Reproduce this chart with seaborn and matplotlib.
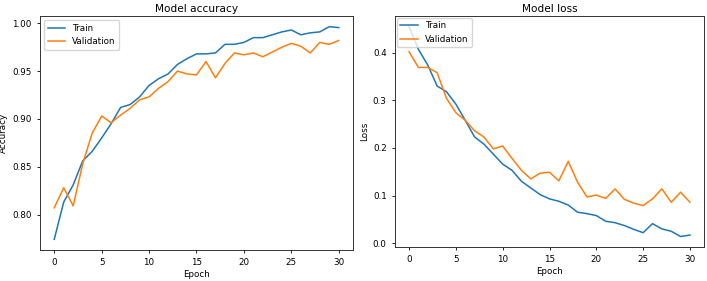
import numpy as np
import pandas as pd
import seaborn as sns
import matplotlib.pyplot as plt

plt.rcParams['font.family'] = ['DejaVu Sans']
plt.rcParams['font.size'] = 6.3

epochs = list(range(31))

train_acc = [0.774, 0.813, 0.831, 0.856, 0.866, 0.880, 0.895, 0.912, 0.915, 0.923,
             0.935, 0.942, 0.947, 0.957, 0.963, 0.968, 0.968, 0.969, 0.978, 0.978,
             0.980, 0.985, 0.985, 0.988, 0.991, 0.993, 0.988, 0.990, 0.991, 0.9965,
             0.9955]
val_acc = [0.807, 0.828, 0.809, 0.853, 0.885, 0.903, 0.896, 0.904, 0.911, 0.920,
           0.923, 0.932, 0.939, 0.950, 0.947, 0.946, 0.960, 0.943, 0.958, 0.969,
           0.967, 0.969, 0.965, 0.970, 0.975, 0.979, 0.976, 0.969, 0.980, 0.978,
           0.982]

train_loss = [0.455, 0.407, 0.374, 0.330, 0.318, 0.292, 0.258, 0.223, 0.208, 0.187,
              0.166, 0.153, 0.130, 0.116, 0.102, 0.093, 0.088, 0.080, 0.065, 0.062,
              0.058, 0.046, 0.043, 0.037, 0.029, 0.022, 0.041, 0.030, 0.025, 0.014,
              0.017]
val_loss = [0.402, 0.369, 0.369, 0.358, 0.304, 0.274, 0.258, 0.236, 0.223, 0.198,
            0.204, 0.178, 0.153, 0.135, 0.147, 0.149, 0.131, 0.172, 0.128, 0.097,
            0.101, 0.094, 0.114, 0.092, 0.084, 0.079, 0.093, 0.114, 0.086, 0.107,
            0.086]

acc_df = pd.DataFrame({'Epoch': epochs * 2,
                       'value': train_acc + val_acc,
                       'set': ['Train'] * 31 + ['Validation'] * 31})
loss_df = pd.DataFrame({'Epoch': epochs * 2,
                        'value': train_loss + val_loss,
                        'set': ['Train'] * 31 + ['Validation'] * 31})

palette = {'Train': '#1f77b4', 'Validation': '#ff7f0e'}

fig = plt.figure(figsize=(7.07, 2.81), dpi=100)
ax1 = fig.add_axes([40 / 707, 31 / 281, 313 / 707, 234 / 281])
ax2 = fig.add_axes([395 / 707, 34 / 281, 309 / 707, 231 / 281])

sns.lineplot(data=acc_df, x='Epoch', y='value', hue='set', palette=palette, ax=ax1, linewidth=1.1)
ax1.set_title('Model accuracy', fontsize=7.6, pad=3)
ax1.set_ylabel('Accuracy', labelpad=3)
ax1.set_xlabel('Epoch', labelpad=2)
ax1.legend(loc='upper left', fontsize=6.3)

sns.lineplot(data=loss_df, x='Epoch', y='value', hue='set', palette=palette, ax=ax2, linewidth=1.1)
ax2.set_title('Model loss', fontsize=7.6, pad=3)
ax2.set_ylabel('Loss', labelpad=3)
ax2.set_xlabel('Epoch', labelpad=2)
ax2.set_yticks([0.0, 0.1, 0.2, 0.3, 0.4])
ax2.legend(loc='upper left', fontsize=6.3, borderaxespad=0.2)

for ax in (ax1, ax2):
    ax.set_xticks([0, 5, 10, 15, 20, 25, 30])
    ax.tick_params(labelsize=6.3, length=2.5, width=0.6)
    for s in ax.spines.values():
        s.set_linewidth(0.7)
        s.set_color('#333333')

fig.savefig('out.png', dpi=100)
